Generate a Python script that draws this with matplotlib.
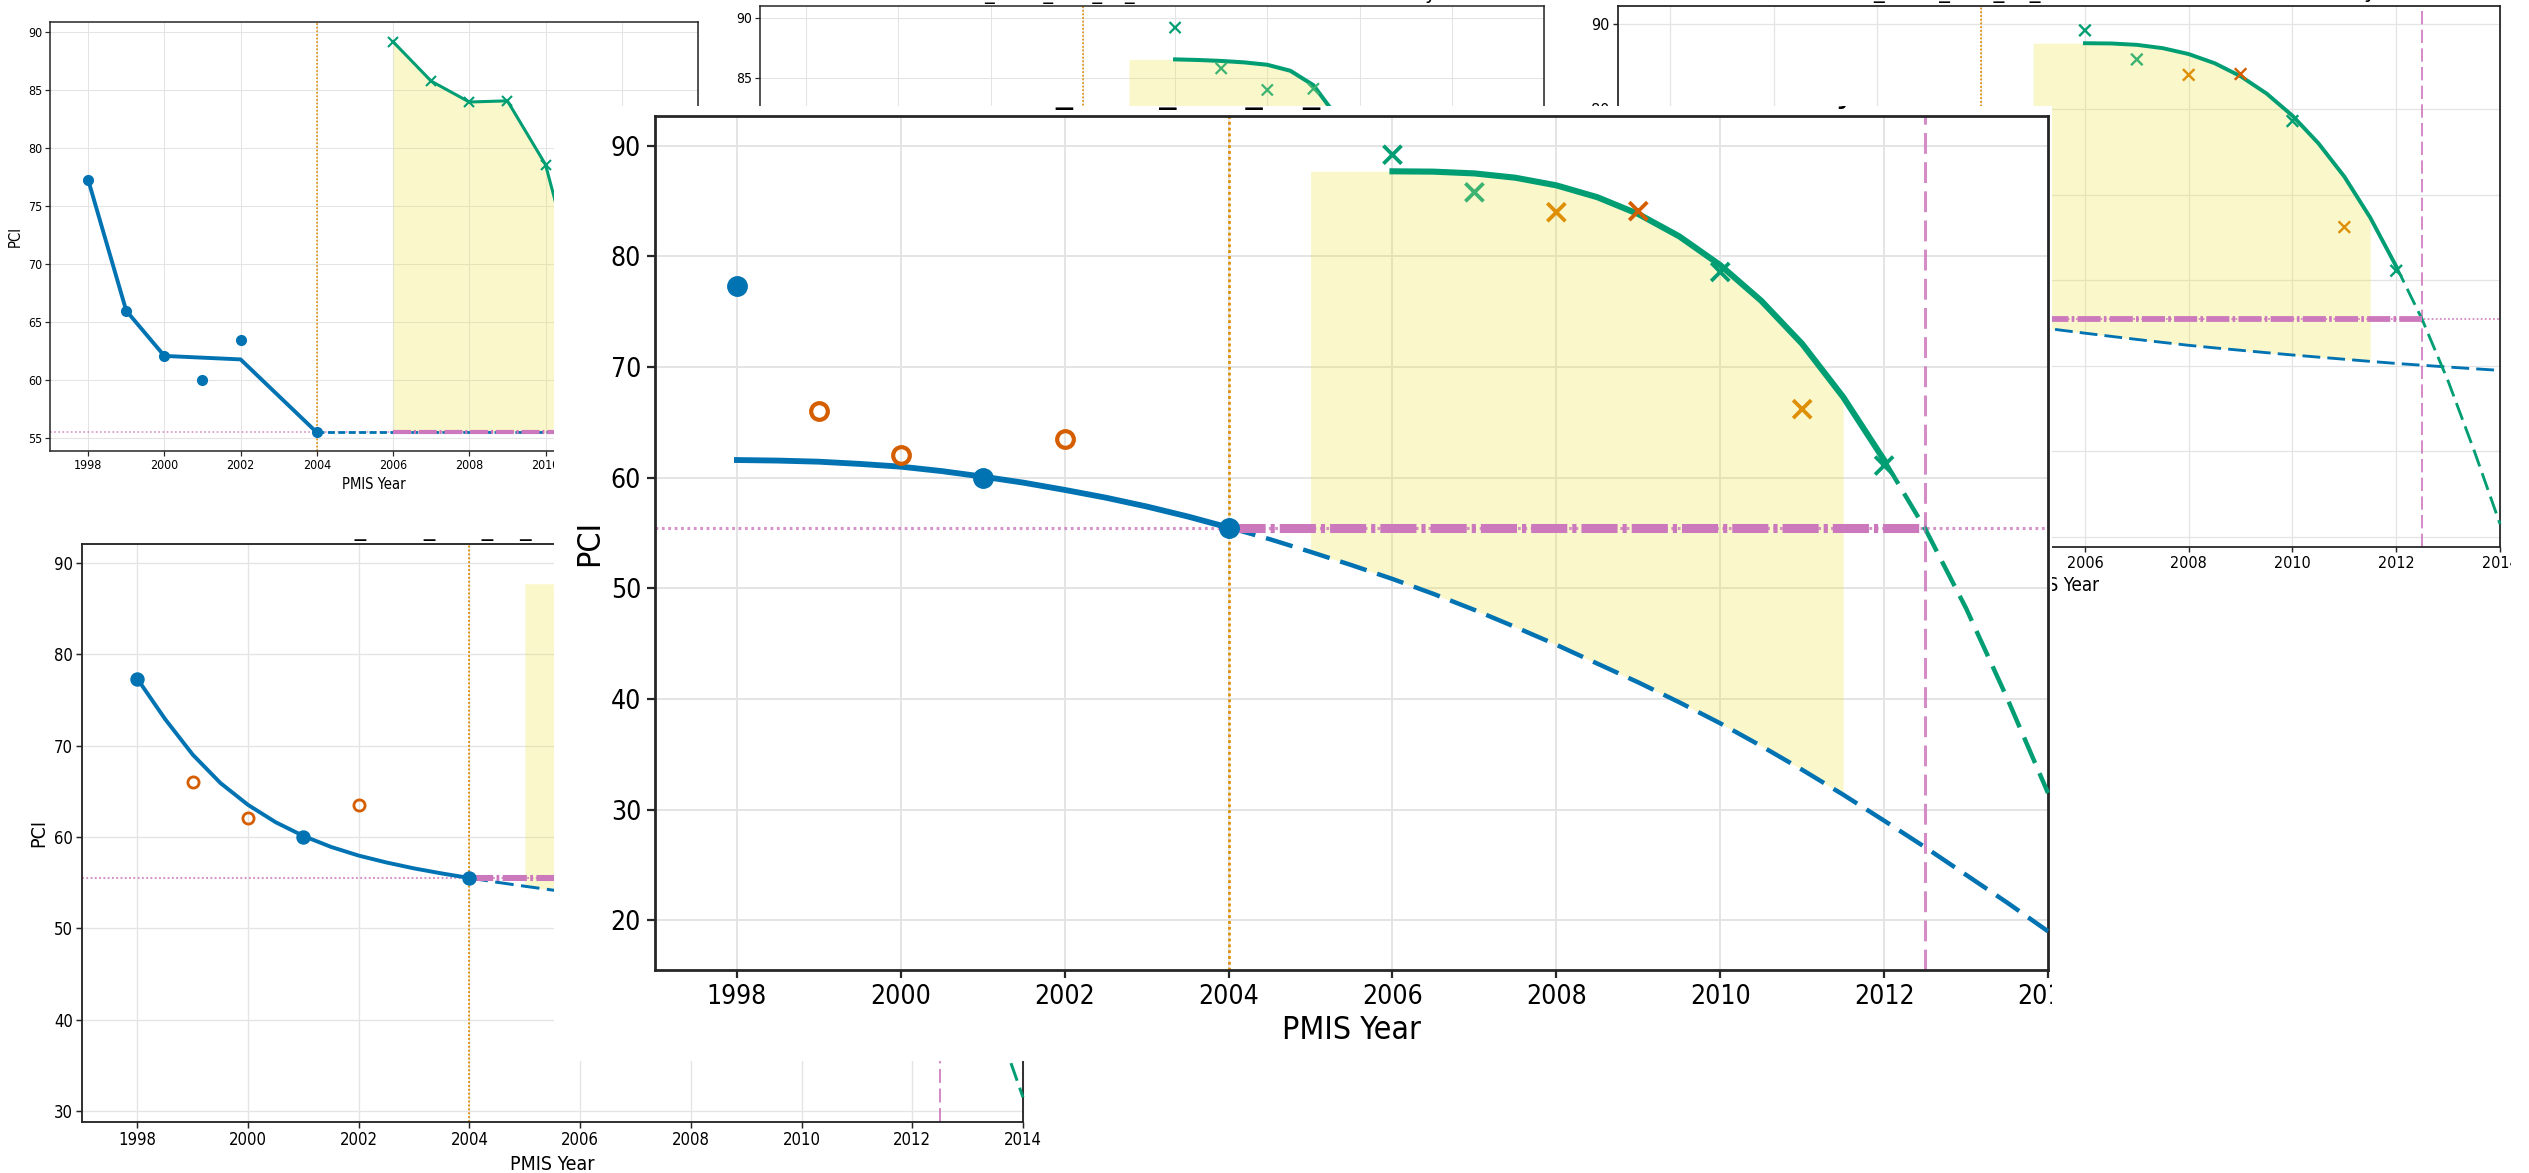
import numpy as np
import matplotlib
matplotlib.use('Agg')
import matplotlib.pyplot as plt
from matplotlib import font_manager
from matplotlib.font_manager import FontProperties
from matplotlib.patches import Rectangle
from matplotlib.transforms import Bbox

plt.rcParams['lines.scale_dashes'] = False

W, H = 2529, 1173

BLUE = '#0173b2'
ORANGE = '#de8f05'
GREEN = '#029e73'
LIGHT_GREEN = '#3cb371'
RED = '#d55e00'
PINK = '#cc78bc'
YELLOW = '#ece133'
INK = '#262626'
GRID = '#e4e4e4'

TITLE = 'PMIS Record_1998_SEG_L1_2004 Deterioration Trend Study'

# PMIS condition records
pre_years = [1998, 1999, 2000, 2001, 2002, 2004]
pre_pci = [77.3, 66.0, 62.1, 60.0, 63.5, 55.5]
pre_kept = [True, False, False, True, False, True]
post_years = [2006, 2007, 2008, 2009, 2010, 2011, 2012]
post_pci = [89.2, 85.8, 84.0, 84.1, 78.6, 66.2, 61.1]
post_colors = [GREEN, LIGHT_GREEN, ORANGE, RED, GREEN, ORANGE, GREEN]
steep_colors = [GREEN, LIGHT_GREEN, LIGHT_GREEN, LIGHT_GREEN, GREEN, ORANGE, GREEN]

# first draft: straight trace through the early records
raw_years = [1998, 1999, 2000, 2002, 2004]
raw_pci = [77.3, 66.0, 62.1, 61.8, 55.5]

threshold = 55.5
treatment_year = 2004
fill_start, fill_end = 2005, 2011.5
cross_year = 2012.5

# fitted curves, half-year steps
fit_years = np.arange(1998, 2014.01, 0.5)
quad_fit = [61.6, 61.55, 61.45, 61.25, 61.0, 60.6, 60.1, 59.55, 58.9, 58.2, 57.4,
            56.5, 55.5, 54.45, 53.3, 52.1, 50.85, 49.5, 48.05, 46.5, 44.9, 43.2,
            41.5, 39.7, 37.8, 35.75, 33.6, 31.35, 29.0, 26.6, 24.1, 21.6, 19.0]
decay_fit = [77.3, 72.9, 69.0, 65.9, 63.5, 61.6, 60.1, 58.9, 57.95, 57.2, 56.55,
             56.0, 55.5, 55.03, 54.6, 54.18, 53.8, 53.43, 53.07, 52.72, 52.38,
             52.08, 51.8, 51.52, 51.25, 51.0, 50.75, 50.5, 50.26, 50.05, 49.84,
             49.64, 49.45]
green_years = np.arange(2006, 2014.01, 0.5)
green_fit = [87.7, 87.67, 87.51, 87.12, 86.43, 85.36, 83.84, 81.82, 79.22, 76.0,
             72.1, 67.3, 61.6, 55.4, 48.2, 40.1, 31.5]
steep_years = np.arange(2006, 2011.01, 0.5)
steep_fit = [86.55, 86.5, 86.42, 86.3, 86.1, 85.6, 84.4, 81.8, 77.5, 71.0, 62.0]

names = {f.name for f in font_manager.fontManager.ttflist}


def cond_font(size):
    if 'DejaVu Sans Condensed' in names:
        return FontProperties(family='DejaVu Sans Condensed', size=size)
    return FontProperties(family='DejaVu Sans', stretch='condensed', size=size)


def narrow_font(size):
    if 'Liberation Sans Narrow' in names:
        return FontProperties(family='Liberation Sans Narrow', size=size)
    return cond_font(size * 0.85)


fig = plt.figure(figsize=(W / 100, H / 100), dpi=100)


def px_axes(left, top, right, bottom, z):
    return fig.add_axes([left / W, 1 - bottom / H, (right - left) / W, (bottom - top) / H],
                        zorder=z)


def clip_to(ax, x0, y0, x1, y1):
    box = Bbox.from_extents(x0, H - y1, x1, H - y0)
    for art in ax.findobj():
        if art is ax:
            continue
        art.set_clip_box(box)
        art.set_clip_on(True)


def style(ax, ylim, yticks, s, tick_fp, label_fp):
    ax.set_xlim(1997, 2014)
    ax.set_ylim(*ylim)
    ax.set_xticks(range(1998, 2015, 2))
    ax.set_yticks(yticks)
    ax.set_axisbelow(True)
    ax.grid(True, color=GRID, lw=1.4 * s)
    for sp in ax.spines.values():
        sp.set_color(INK)
        sp.set_linewidth(2.0 * s)
    ax.tick_params(length=6 * s, width=1.6 * s, color=INK, labelcolor='black', pad=4 * s)
    ax.set_xlabel('PMIS Year')
    ax.set_ylabel('PCI')
    for lbl in ax.get_xticklabels() + ax.get_yticklabels():
        lbl.set_fontproperties(tick_fp)
    ax.xaxis.label.set_fontproperties(label_fp)
    ax.yaxis.label.set_fontproperties(label_fp)


def band(lower, ceiling_years, ceiling, first, last):
    # shaded band: from the lower fit up to the green fit (flat before it starts)
    lookup = dict(zip(ceiling_years, ceiling))
    sel = (fit_years >= first) & (fit_years <= last)
    xs = fit_years[sel]
    top = [lookup.get(x, ceiling[0]) for x in xs]
    return xs, np.array(lower)[sel], top


def draw_fitted(ax, blue_fit, s):
    fy = fit_years
    bf = np.array(blue_fit)
    gf = np.array(green_fit)
    before = fy <= treatment_year
    after = fy >= treatment_year
    xs, lo, hi = band(blue_fit, green_years, green_fit, fill_start, fill_end)
    ax.fill_between(xs, lo, hi, color=YELLOW, alpha=0.25, lw=0, zorder=1)
    ax.axhline(threshold, color=PINK, alpha=0.8, lw=2.2 * s,
               ls=(0, (2 * s, 2.6 * s)), zorder=1.5)
    ax.axvline(treatment_year, color=ORANGE, lw=2 * s, ls=(0, (2 * s, 2.2 * s)), zorder=1.6)
    ax.axvline(cross_year, color=PINK, alpha=0.85, lw=2.2 * s, ls=(0, (15 * s, 6 * s)),
               zorder=1.6)
    ax.plot(fy[before], bf[before], color=BLUE, lw=4.2 * s, zorder=3)
    ax.plot(fy[after], bf[after], color=BLUE, lw=3.2 * s, ls=(0, (20 * s, 8 * s)), zorder=3)
    solid = green_years <= 2012
    tail = green_years >= 2012
    ax.plot(green_years[solid], gf[solid], color=GREEN, lw=4.4 * s, zorder=3)
    ax.plot(green_years[tail], gf[tail], color=GREEN, lw=3.2 * s,
            ls=(0, (20 * s, 8 * s)), zorder=3)
    ax.hlines(threshold, treatment_year, cross_year, color=PINK, lw=6.5 * s,
              ls=(0, (26 * s, 3.6 * s, 3 * s, 3.6 * s)), zorder=4)
    kept_x = [x for x, k in zip(pre_years, pre_kept) if k]
    kept_y = [y for y, k in zip(pre_pci, pre_kept) if k]
    drop_x = [x for x, k in zip(pre_years, pre_kept) if not k]
    drop_y = [y for y, k in zip(pre_pci, pre_kept) if not k]
    ax.plot(kept_x, kept_y, 'o', color=BLUE, ms=14 * s, zorder=5)
    ax.plot(drop_x, drop_y, 'o', mfc='none', mec=RED, mew=3.0 * s, ms=12 * s, zorder=5)
    ax.scatter(post_years, post_pci, c=post_colors, marker='x', s=(13 * s) ** 2,
               linewidths=2.7 * s, zorder=5)


# ---- top-left: first draft with raw traces ----
axA = px_axes(50, 22, 698, 451, 1)
axA.axhline(threshold, color=PINK, alpha=0.8, lw=1.2, ls=(0, (1.2, 1.8)), zorder=1.5)
axA.axvline(treatment_year, color=ORANGE, lw=1.2, ls=(0, (1.2, 1.4)), zorder=1.6)
axA.fill_between(post_years, post_pci, threshold, color=YELLOW, alpha=0.25, lw=0, zorder=1)
axA.plot(raw_years, raw_pci, color=BLUE, lw=2.8, zorder=3)
axA.hlines(threshold, treatment_year, 2014, color=BLUE, lw=2, ls=(0, (5, 2.5)), zorder=3)
axA.hlines(threshold, 2006, 2014, color=PINK, lw=3, ls=(0, (13, 2, 1.5, 2)), zorder=4)
axA.plot(pre_years, pre_pci, 'o', color=BLUE, ms=7, zorder=5)
axA.plot(post_years, post_pci, color=GREEN, lw=2.2, marker='x', ms=7, mew=1.5, zorder=5)
style(axA, (53.9, 90.9), range(55, 91, 5), 0.55, narrow_font(10.5), narrow_font(12.5))
clip_to(axA, 0, 0, 705, 515)

# ---- top-middle: steeper green fit ----
axB = px_axes(760, 6, 1544, 481, 1)
xsB, loB, hiB = band(decay_fit, steep_years, steep_fit, fill_start, 2011)
axB.fill_between(xsB, loB, hiB, color=YELLOW, alpha=0.25, lw=0, zorder=1)
axB.axvline(treatment_year, color=ORANGE, lw=1.2, ls=(0, (1.2, 1.4)), zorder=1.6)
axB.plot(steep_years, steep_fit, color=GREEN, lw=2.9, zorder=3)
axB.scatter(post_years, post_pci, c=steep_colors, marker='x', s=8 ** 2, linewidths=1.6,
            zorder=5)
style(axB, (51.4, 91.0), range(55, 91, 5), 0.55, cond_font(10), cond_font(12))
axB.set_title(TITLE, fontsize=13.75, pad=4.7, color='black', family='DejaVu Sans')
clip_to(axB, 705, 0, 1580, 108)

# ---- top-right: decay fit ----
axC = px_axes(1618, 6, 2500, 547, 1)
draw_fitted(axC, decay_fit, 0.64)
style(axC, (28.8, 92.05), range(30, 91, 10), 0.64, cond_font(11.5), cond_font(13.5))
axC.set_title(TITLE, fontsize=15.4, pad=5.8, color='black', family='DejaVu Sans')
clip_to(axC, 1580, 0, 2511, 605)

# ---- bottom-left: decay fit ----
axD = px_axes(82, 544, 1023, 1122, 1)
draw_fitted(axD, decay_fit, 0.67)
style(axD, (28.8, 92.05), range(30, 91, 10), 0.67, cond_font(12), cond_font(14))
axD.set_title(TITLE, fontsize=16.4, pad=6.0, color='black', family='DejaVu Sans')
clip_to(axD, 0, 537, 1045, H)

# ---- centre: quadratic fit ----
cover = Rectangle((554 / W, 1 - 1061 / H), (2052 - 554) / W, (1061 - 106) / H,
                  transform=fig.transFigure, facecolor='white', edgecolor='none', zorder=4)
fig.add_artist(cover)
axM = px_axes(655, 116, 2048, 970, 5)
draw_fitted(axM, quad_fit, 1.0)
style(axM, (15.5, 92.7), range(20, 91, 10), 1.0, cond_font(19), cond_font(23))
axM.set_title(TITLE, fontsize=24.5, pad=10.1, color='black', family='DejaVu Sans')
clip_to(axM, 554, 106, 2052, 1061)

fig.savefig('out.png', dpi=100, facecolor='white')
